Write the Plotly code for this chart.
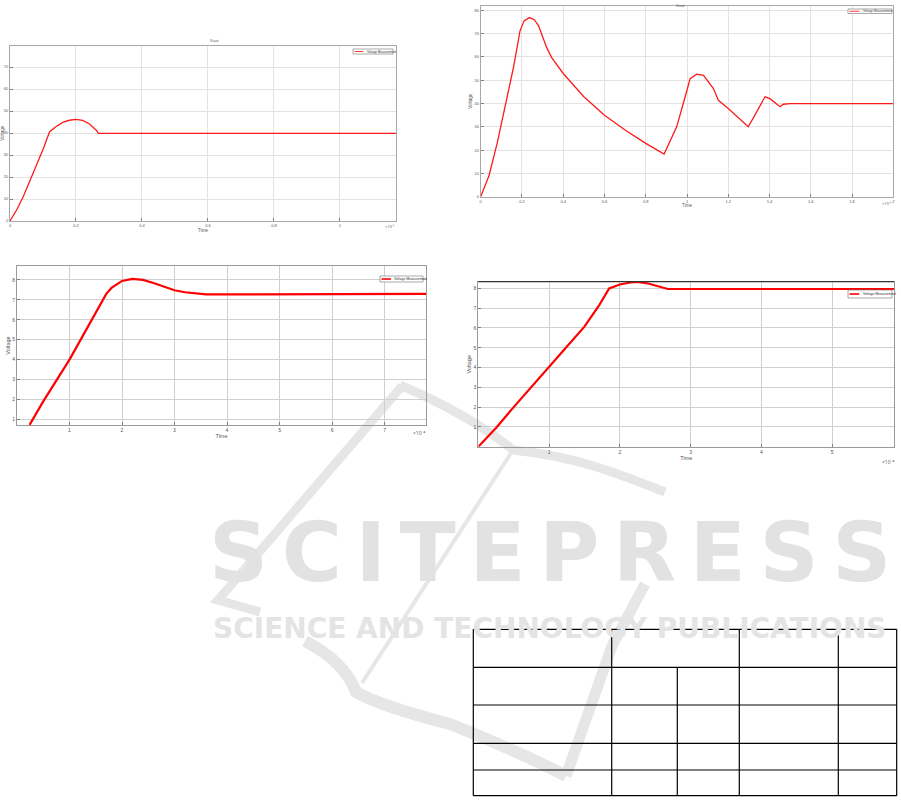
import plotly.graph_objects as go

W, H = 901, 812

# ---------------- data ----------------
# Panel A (top-left)
a_time = [0, 0.02, 0.04, 0.06, 0.08, 0.10, 0.12, 0.14, 0.16, 0.18, 0.20, 0.22, 0.24, 0.26, 0.268, 1.17]
a_volt = [0, 5, 11, 18, 25, 32.5, 40.6, 43, 44.8, 45.8, 46.2, 45.7, 44.2, 41.5, 39.8, 39.8]

# Panel B (top-right)
b_time = [0, 0.04, 0.08, 0.12, 0.16, 0.19, 0.21, 0.236, 0.26, 0.28, 0.30, 0.32, 0.344,
          0.4, 0.5, 0.6, 0.7, 0.8, 0.889, 0.95, 1.0, 1.015, 1.047, 1.08, 1.128, 1.152,
          1.2, 1.297, 1.338, 1.378, 1.402, 1.43, 1.451, 1.467, 1.5, 2.0]
b_volt = [0, 9, 23, 39, 56, 71, 75.5, 76.9, 76, 73.5, 69, 64, 59.7,
          52.9, 42.9, 35, 28.6, 22.9, 18.3, 30, 45.7, 50.7, 52.6, 52.1, 46.4, 41.4,
          37.9, 30, 36.4, 42.9, 42.1, 40, 38.6, 39.7, 40, 40]

# Panel C (bottom-left)
c_time = [0.24, 0.5, 1.0, 1.5, 1.7, 1.8, 2.0, 2.2, 2.4, 2.6, 2.8, 3.0, 3.2, 3.4, 3.6, 4.0, 7.79]
c_volt = [0.72, 1.9, 4.0, 6.35, 7.3, 7.6, 7.95, 8.05, 8.0, 7.85, 7.65, 7.48, 7.38, 7.32, 7.28, 7.27, 7.3]

# Panel D (bottom-right)
d_time = [0, 0.25, 0.5, 0.75, 1.0, 1.25, 1.5, 1.7, 1.85, 2.0, 2.15, 2.25, 2.4, 2.55, 2.68, 5.88]
d_volt = [0, 0.95, 2.0, 3.0, 4.0, 5.05, 6.07, 7.1, 8.0, 8.2, 8.3, 8.33, 8.25, 8.12, 7.97, 7.97]

a_xticks = [0, 0.2, 0.4, 0.6, 0.8, 1]
a_xtext = ["0", "0.2", "0.4", "0.6", "0.8", "1"]
a_yticks = [0, 10, 20, 30, 40, 50, 60, 70]
b_xticks = [0, 0.2, 0.4, 0.6, 0.8, 1, 1.2, 1.4, 1.6, 1.8, 2]
b_xtext = ["0", "0.2", "0.4", "0.6", "0.8", "1", "1.2", "1.4", "1.6", "1.8", "2"]
b_yticks = [0, 10, 20, 30, 40, 50, 60, 70, 80]
c_xticks = [1, 2, 3, 4, 5, 6, 7]
c_yticks = [1, 2, 3, 4, 5, 6, 7, 8]
d_xticks = [1, 2, 3, 4, 5]
d_yticks = [1, 2, 3, 4, 5, 6, 7, 8]

series_name = "Voltage Measurement"
panel_title = "Vout"

# ---------------- helpers (page pixels -> paper fractions) ----------------
def clamp(v):
    return max(0.0, min(1.0, v))

def px_x(p):
    return clamp(p / W)

def px_y(p):
    return clamp(1 - p / H)

fig = go.Figure()

fig.add_trace(go.Scatter(x=a_time, y=a_volt, mode="lines", name=series_name,
                         line=dict(color="#ff1a1a", width=1.3), xaxis="x", yaxis="y"))
fig.add_trace(go.Scatter(x=b_time, y=b_volt, mode="lines", name=series_name,
                         line=dict(color="#ff1a1a", width=1.3), xaxis="x2", yaxis="y2"))
fig.add_trace(go.Scatter(x=c_time, y=c_volt, mode="lines", name=series_name,
                         line=dict(color="#ff0000", width=2.2), xaxis="x3", yaxis="y3"))
fig.add_trace(go.Scatter(x=d_time, y=d_volt, mode="lines", name=series_name,
                         line=dict(color="#ff0000", width=2.2), xaxis="x4", yaxis="y4"))

def axis(domain, rng, tickvals, ticktext=None, title="", anchor="y", fs=4, grid="#e3e3e3",
         line="#a8a8a8", standoff=1):
    d = dict(domain=domain, range=rng, tickvals=tickvals, showgrid=True, gridcolor=grid,
             gridwidth=1, showline=True, linecolor=line, linewidth=1, mirror=True,
             zeroline=False, ticks="inside", ticklen=3, tickcolor="#808080",
             tickfont=dict(size=fs, color="#555555", family="Liberation Sans"),
             anchor=anchor, fixedrange=True, automargin=False)
    if ticktext is not None:
        d["ticktext"] = ticktext
    if title:
        d["title"] = dict(text=title, font=dict(size=fs + 0.5, color="#555555",
                                                family="Liberation Sans"), standoff=standoff)
    return d

fig.update_layout(
    xaxis=axis([px_x(10), px_x(396)], [0, 1.17], a_xticks, a_xtext, "Time", "y"),
    yaxis=axis([px_y(221), px_y(45.7)], [0, 79.7], a_yticks, None, "Voltage", "x"),
    xaxis2=axis([px_x(480.7), px_x(893.3)], [0, 2], b_xticks, b_xtext, "Time", "y2"),
    yaxis2=axis([px_y(196.7), px_y(5.7)], [0, 82], b_yticks, None, "Voltage", "x2"),
    xaxis3=axis([px_x(17), px_x(426)], [0, 7.79], c_xticks, None, "Time", "y3", fs=5,
                grid="#cfcfcf", line="#9a9a9a"),
    yaxis3=axis([px_y(425), px_y(266)], [0.715, 8.7], c_yticks, None, "Voltage", "x3", fs=5,
                grid="#cfcfcf", line="#9a9a9a"),
    xaxis4=axis([px_x(478.3), px_x(894.3)], [0, 5.88], d_xticks, None, "Time", "y4", fs=5,
                grid="#cfcfcf", line="#9a9a9a"),
    yaxis4=axis([px_y(446.7), px_y(281.7)], [0, 8.34], d_yticks, None, "Voltage", "x4", fs=5,
                grid="#cfcfcf", line="#9a9a9a"),
)

ann = []
shapes = []

# faint publisher logo watermark (drawn below everything)
WM = "#e6e6e6"
logo_paths = [
    ("M 402,386 L 218,600 L 260,612", 9),
    ("M 400,385 Q 470,415 513,450 Q 560,455 600,468 Q 630,478 665,492", 9),
    ("M 513,450 L 362,683", 4),
    ("M 305,641 Q 345,662 356,692 Q 380,706 450,724 Q 520,752 566,776", 12),
    ("M 566,776 L 612,646 L 645,584", 11),
]
for path, lw in logo_paths:
    out = []
    for tok in path.split(" "):
        if "," in tok:
            xs, ys = tok.split(",")
            out.append(f"{px_x(float(xs))},{px_y(float(ys))}")
        else:
            out.append(tok)
    shapes.append(dict(type="path", xref="paper", yref="paper", path=" ".join(out),
                       line=dict(color=WM, width=lw), layer="below"))

# small legend boxes (box, line sample, label)
def legend_box(x0, x1, y0, y1, lw, fs):
    shapes.append(dict(type="rect", xref="paper", yref="paper", x0=px_x(x0), x1=px_x(x1),
                       y0=px_y(y1), y1=px_y(y0), fillcolor="white",
                       line=dict(color="#707070", width=0.6), layer="above"))
    ym = (y0 + y1) / 2
    shapes.append(dict(type="line", xref="paper", yref="paper", x0=px_x(x0 + 1.5),
                       x1=px_x(x0 + 1.5 + (x1 - x0) * 0.22), y0=px_y(ym), y1=px_y(ym),
                       line=dict(color="#ff0000", width=lw), layer="above"))
    ann.append(dict(text=series_name, x=px_x(x0 + 3 + (x1 - x0) * 0.22), y=px_y(ym),
                    xref="paper", yref="paper", showarrow=False, xanchor="left",
                    yanchor="middle", font=dict(size=fs, color="#333333",
                                                family="Liberation Sans")))

legend_box(353, 393, 49, 54, 0.8, 3)
legend_box(848, 892, 9, 13.5, 0.8, 3)
legend_box(380, 423, 276, 282, 1.6, 3.4)
legend_box(848, 892, 290, 298, 1.6, 3.4)

ann.append(dict(text=panel_title, x=px_x(208), y=px_y(44.5), xref="paper", yref="paper",
                showarrow=False, font=dict(size=4, color="#444444"), yanchor="bottom"))
ann.append(dict(text=panel_title, x=px_x(687), y=px_y(1), xref="paper", yref="paper",
                showarrow=False, font=dict(size=4, color="#444444"), yanchor="top"))
for (xx, yy, txt, fs) in [(397, 227, "×10⁻³", 4), (894, 203, "×10⁻³", 4),
                          (428, 433, "×10⁻⁴", 5), (897, 462, "×10⁻⁴", 5)]:
    ann.append(dict(text=txt, x=px_x(xx), y=px_y(yy), xref="paper", yref="paper",
                    showarrow=False, xanchor="right", yanchor="middle",
                    font=dict(size=fs, color="#555555")))

# watermark text
SP = "\u2006"
ann.append(dict(text=SP.join("SCITEPRESS"), x=px_x(550), y=px_y(552), xref="paper",
                yref="paper", showarrow=False, xanchor="center", yanchor="middle",
                font=dict(size=82, color="#e2e2e2", family="DejaVu Sans", weight="bold")))
ann.append(dict(text="SCIENCE AND TECHNOLOGY PUBLICATIONS", x=px_x(550), y=px_y(628),
                xref="paper", yref="paper", showarrow=False, xanchor="center",
                yanchor="middle",
                font=dict(size=28, color="#e4e4e4", family="DejaVu Sans", weight="bold")))
fig.update_layout(annotations=ann)

# table grid lines
tl, tr, tt, tb = 473.3, 896.7, 629.3, 795.7
col = [611.7, 677.3, 739.3, 838.3]
rows = [667.3, 705, 743.3, 770]
def hline(y, x0, x1):
    shapes.append(dict(type="line", xref="paper", yref="paper", x0=px_x(x0), x1=px_x(x1),
                       y0=px_y(y), y1=px_y(y), line=dict(color="black", width=1.2)))
def vline(x, y0, y1):
    shapes.append(dict(type="line", xref="paper", yref="paper", x0=px_x(x), x1=px_x(x),
                       y0=px_y(y0), y1=px_y(y1), line=dict(color="black", width=1.2)))
for y in [tt] + rows + [tb]:
    hline(y, tl, tr)
for x in [tl, col[0], col[2], col[3], tr]:
    vline(x, tt, tb)
vline(col[1], rows[0], tb)

# black top border of panel D
shapes.append(dict(type="line", xref="paper", yref="paper", x0=px_x(478.3), x1=px_x(894.3),
                   y0=px_y(281.7), y1=px_y(281.7), line=dict(color="#333333", width=1.2)))
fig.update_layout(shapes=shapes)

fig.update_layout(width=W, height=H, margin=dict(l=0, r=0, t=0, b=0),
                  paper_bgcolor="rgba(0,0,0,0)", plot_bgcolor="rgba(0,0,0,0)",
                  showlegend=False, hovermode=False)

fig.write_html("out.html", config={"displayModeBar": False, "staticPlot": True},
               post_script="document.body.style.margin='0';document.body.style.overflow='hidden';")
